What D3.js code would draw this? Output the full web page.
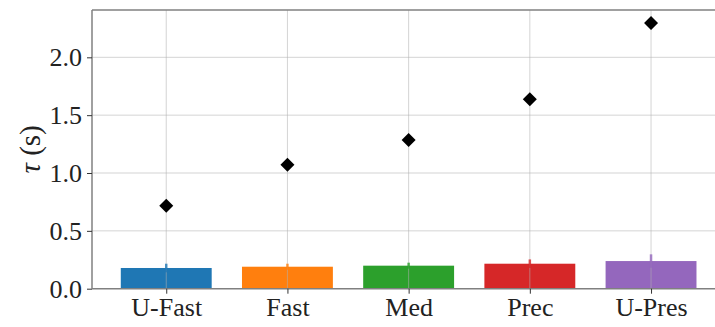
<!DOCTYPE html>
<html>
<head>
<meta charset="utf-8">
<script src="https://cdn.jsdelivr.net/npm/d3@7"></script>
<style>
  html, body { margin: 0; padding: 0; background: #fff; }
  svg { display: block; }
  text { font-family: "Liberation Serif", "DejaVu Serif", serif; fill: #222; }
</style>
</head>
<body>
<svg id="chart" width="715" height="327"></svg>
<script>
const categories = ["U-Fast", "Fast", "Med", "Prec", "U-Pres"];
const barValues = [0.179, 0.190, 0.199, 0.216, 0.239];
const barErrors = [0.037, 0.026, 0.026, 0.037, 0.058];
const diamondValues = [0.717, 1.072, 1.285, 1.637, 2.296];
const colors = ["#1f77b4", "#ff7f0e", "#2ca02c", "#d62728", "#9467bd"];
const yTicks = [0.0, 0.5, 1.0, 1.5, 2.0];

(function () {
const svg = d3.select("#chart");
const mLeft = 92, mTop = 10, mBottom = 288.7;
const step = 121.2;
const barWidthFrac = 0.75;

const x = d3.scaleLinear().domain([-0.6125, 4.6125]).range([mLeft, mLeft + 5.225 * step]);
const y = d3.scaleLinear().domain([0, 2.409]).range([mBottom, mTop]);
const mRight = x.range()[1];

// bars
svg.append("g").selectAll("rect").data(categories).join("rect")
  .attr("x", (d, i) => x(i - barWidthFrac / 2))
  .attr("width", (d, i) => x(i + barWidthFrac / 2) - x(i - barWidthFrac / 2))
  .attr("y", (d, i) => y(barValues[i]))
  .attr("height", (d, i) => y(0) - y(barValues[i]))
  .attr("fill", (d, i) => colors[i]);

// grid (over bars)
const grid = svg.append("g").attr("stroke", "#b0b0b0").attr("stroke-opacity", 0.55).attr("stroke-width", 1);
grid.selectAll("line.h").data(yTicks.filter(v => v > 0)).join("line")
  .attr("x1", mLeft).attr("x2", mRight)
  .attr("y1", d => y(d)).attr("y2", d => y(d));
grid.selectAll("line.v").data(categories).join("line")
  .attr("x1", (d, i) => x(i)).attr("x2", (d, i) => x(i))
  .attr("y1", mTop).attr("y2", mBottom);

// error bars
svg.append("g").selectAll("line").data(categories).join("line")
  .attr("x1", (d, i) => x(i)).attr("x2", (d, i) => x(i))
  .attr("y1", (d, i) => y(barValues[i] - barErrors[i]))
  .attr("y2", (d, i) => y(barValues[i] + barErrors[i]))
  .attr("stroke", (d, i) => colors[i])
  .attr("stroke-opacity", 0.8)
  .attr("stroke-width", 2.5);

// diamonds
const dsym = d3.symbol().type(d3.symbolSquare).size(98);
svg.append("g").selectAll("path").data(categories).join("path")
  .attr("d", dsym)
  .attr("transform", (d, i) => `translate(${x(i)},${y(diamondValues[i])}) rotate(45)`)
  .attr("fill", "#000");

// spines
const sp = svg.append("g").attr("stroke", "#808080").attr("stroke-width", 1.5).attr("fill", "none");
sp.append("line").attr("x1", mLeft).attr("x2", mLeft).attr("y1", mTop).attr("y2", mBottom);
sp.append("line").attr("x1", mLeft).attr("x2", mRight).attr("y1", mTop).attr("y2", mTop);
sp.append("line").attr("x1", mLeft).attr("x2", mRight).attr("y1", mBottom).attr("y2", mBottom);
sp.append("line").attr("x1", mRight).attr("x2", mRight).attr("y1", mTop).attr("y2", mBottom);

// y axis
const yAxis = d3.axisLeft(y).tickValues(yTicks).tickFormat(d3.format(".1f")).tickSize(5).tickPadding(5);
const gy = svg.append("g").attr("transform", `translate(${mLeft},0)`).call(yAxis);
gy.select(".domain").remove();
gy.selectAll(".tick line").attr("stroke", "#333").attr("stroke-width", 1);
gy.selectAll(".tick text").attr("font-size", 26).attr("fill", "#222")
  .style("font-family", '"Liberation Serif", "DejaVu Serif", serif');

// x axis
const xAxis = d3.axisBottom(x).tickValues(d3.range(categories.length))
  .tickFormat(i => categories[i]).tickSize(5).tickPadding(4);
const gx = svg.append("g").attr("transform", `translate(0,${mBottom})`).call(xAxis);
gx.select(".domain").remove();
gx.selectAll(".tick line").attr("stroke", "#333").attr("stroke-width", 1);
gx.selectAll(".tick text").attr("font-size", 26).attr("fill", "#222")
  .style("font-family", '"Liberation Serif", "DejaVu Serif", serif');

// y label
const yl = svg.append("text")
  .attr("transform", `translate(40,${(mTop + mBottom) / 2}) rotate(-90)`)
  .attr("text-anchor", "middle")
  .attr("font-size", 29);
yl.append("tspan").attr("font-style", "italic").text("τ");
yl.append("tspan").text(" (s)");
})();
</script>
</body>
</html>
